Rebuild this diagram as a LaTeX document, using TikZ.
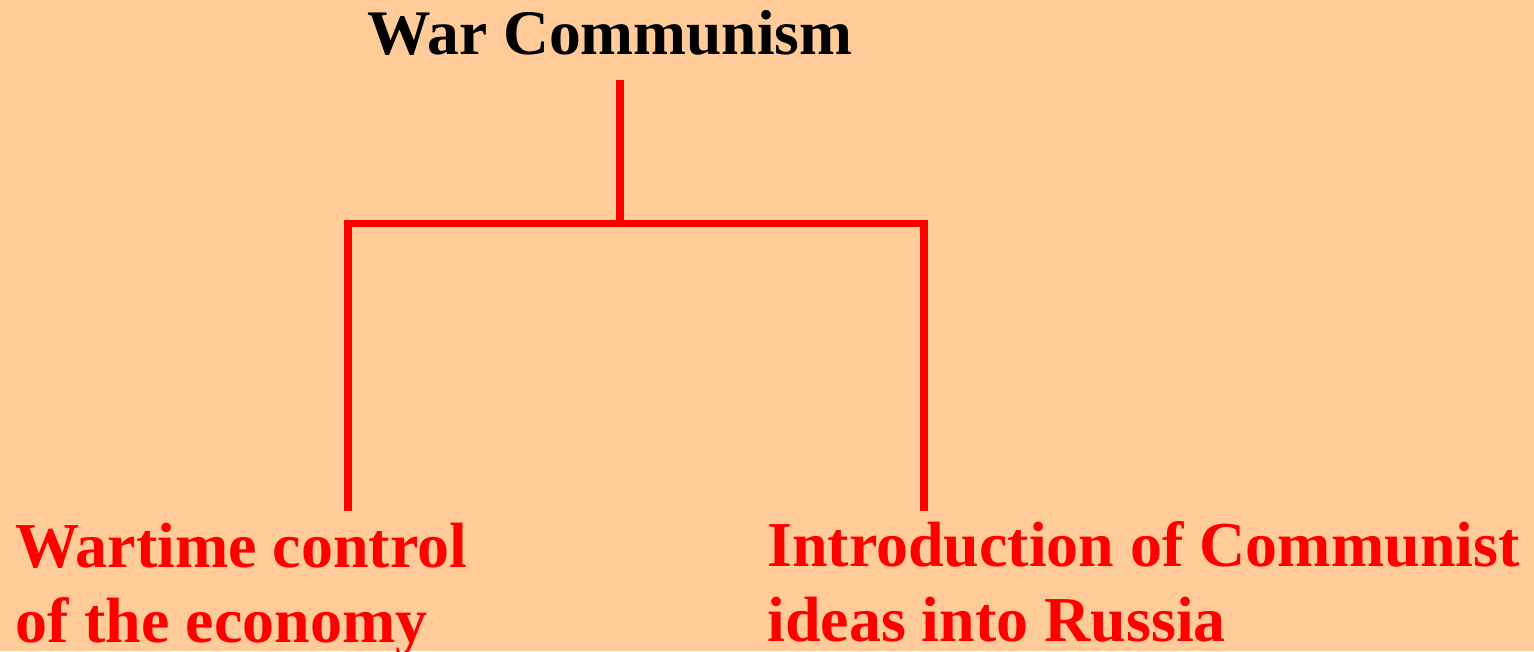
\documentclass[tikz,border=0pt]{standalone}
\usepackage{xcolor}
\usepackage{fontspec}
\setmainfont{Liberation Serif}
\usepackage{tikz}
\usetikzlibrary{positioning, calc}

\definecolor{peach}{RGB}{255,204,153}

\begin{document}
\begin{tikzpicture}[
            x=1pt, y=-1pt,
            title/.style={inner sep=0pt, anchor=base, font=\fontsize{63.5}{70}\selectfont\bfseries},
            branch/.style={inner sep=0pt, anchor=base west, align=left, text=red, font=\fontsize{64}{75}\selectfont\bfseries},
            link/.style={draw=red, line width=7.5pt}
        ]
        % Background
        \fill[peach] (0,0) rectangle (1534,651);
        \useasboundingbox (0,0) rectangle (1534,651);

        % Title
        \node[title] (war) at (610,54) {War Communism};

        % Branches (base anchor sits on the last line)
        \node[branch] (wartime) at (15,642) {Wartime control\\of the economy};
        \node[branch] (intro) at (767,641) {Introduction of Communist\\ideas into Russia};

        % Connectors
        \coordinate (stem) at (620,80);
        \coordinate (hub) at (620,223.5);
        \coordinate (leftend) at (348,511);
        \coordinate (rightend) at (924,511);
        \draw[link] (stem) -- (hub);
        \draw[link] (leftend) |- (hub) -| (rightend);
\end{tikzpicture}
\end{document}
